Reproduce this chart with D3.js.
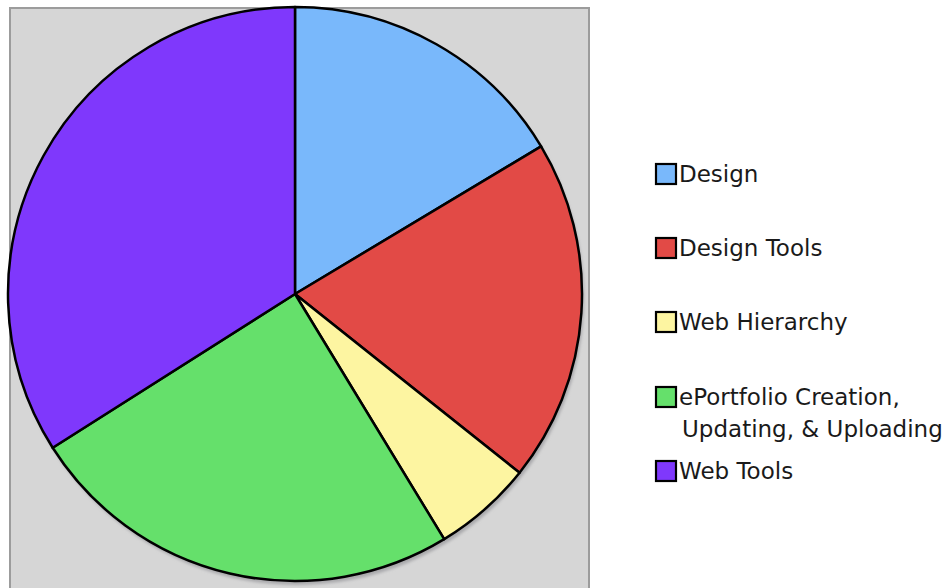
<!DOCTYPE html>
<html>
<head>
<meta charset="utf-8">
<script src="https://cdn.jsdelivr.net/npm/d3@7"></script>
<style>
  html, body { margin: 0; padding: 0; background: #fff; }
  svg { display: block; }
  text { font-family: "DejaVu Sans", sans-serif; fill: #1a1a1a; }
</style>
</head>
<body>
<svg id="chart" width="947" height="588"></svg>
<script>
// Share of course time by topic (percent)
const categories = ["Design", "Design Tools", "Web Hierarchy", "ePortfolio Creation, Updating, & Uploading", "Web Tools"];
const values = [16.4, 19.3, 5.6, 24.7, 34.0];
const colors = ["#79b8fb", "#e24a46", "#fdf5a1", "#65e06b", "#7f38fc"];
// Legend labels, wrapped into lines
const legendLines = [["Design"], ["Design Tools"], ["Web Hierarchy"], ["ePortfolio Creation,", "Updating, & Uploading"], ["Web Tools"]];

const svg = d3.select("#chart");
const cx = 295, cy = 294, r = 287;

// Plot area panel
svg.append("rect")
  .attr("x", 10).attr("y", 8)
  .attr("width", 579).attr("height", 600)
  .attr("fill", "#d6d6d6")
  .attr("stroke", "#9c9c9c")
  .attr("stroke-width", 2);

const defs = svg.append("defs");
defs.append("filter").attr("id", "soft")
  .append("feGaussianBlur").attr("stdDeviation", 1.5);

const pie = d3.pie().sort(null).value(d => d.value);
const arc = d3.arc().innerRadius(0).outerRadius(r);
const data = categories.map((c, i) => ({ name: c, value: values[i], color: colors[i] }));

const g = svg.append("g").attr("transform", `translate(${cx},${cy})`);

// Drop shadow under the pie
g.append("circle")
  .attr("cx", 2).attr("cy", 4).attr("r", r)
  .attr("fill", "#a9a9ac")
  .attr("filter", "url(#soft)");

g.selectAll("path.slice")
  .data(pie(data))
  .join("path")
  .attr("class", "slice")
  .attr("d", arc)
  .attr("fill", d => d.data.color)
  .attr("stroke", "#000")
  .attr("stroke-width", 2.5)
  .attr("stroke-linejoin", "round");

// Legend
const legendY = [174, 248, 322, 397, 471];
const lg = svg.append("g");
data.forEach((d, i) => {
  const row = lg.append("g").attr("transform", `translate(656,${legendY[i]})`);
  row.append("rect")
    .attr("x", 0).attr("y", -10)
    .attr("width", 20).attr("height", 20)
    .attr("fill", d.color)
    .attr("stroke", "#000")
    .attr("stroke-width", 2.2);
  legendLines[i].forEach((line, j) => {
    row.append("text")
      .attr("x", j === 0 ? 23 : 26)
      .attr("y", 8 + j * 32)
      .attr("font-size", 23)
      .text(line);
  });
});
</script>
</body>
</html>
